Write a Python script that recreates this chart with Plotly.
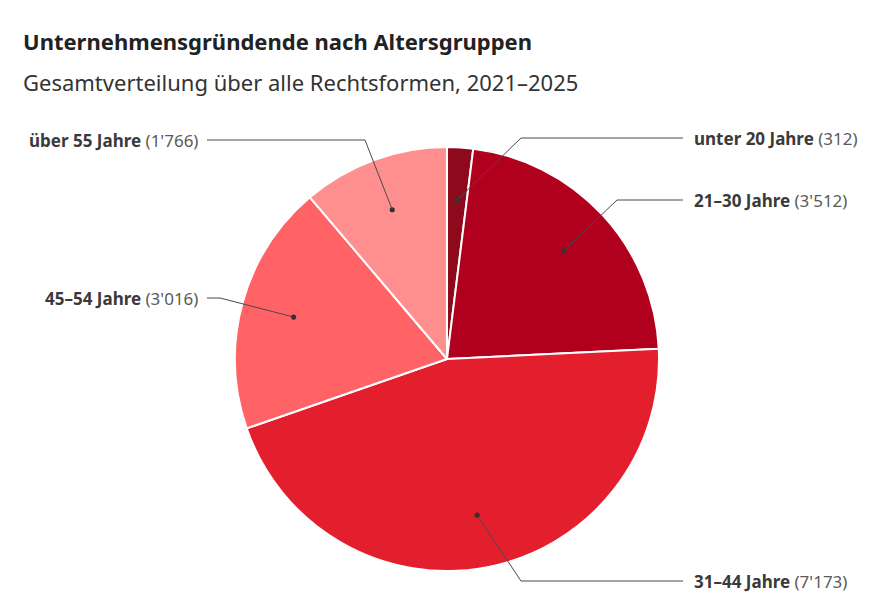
import math
import plotly.graph_objects as go

# ---- data ----
categories = ["unter 20 Jahre", "21–30 Jahre", "31–44 Jahre", "45–54 Jahre", "über 55 Jahre"]
values = [312, 3512, 7173, 3016, 1766]
value_labels = ["312", "3'512", "7'173", "3'016", "1'766"]
colors = ["#8C0A1B", "#B0001E", "#E31E2D", "#FF6366", "#FF8F8F"]

title = "Unternehmensgründende nach Altersgruppen"
subtitle = "Gesamtverteilung über alle Rechtsformen, 2021–2025"

# ---- layout (pixels) ----
W, H = 875, 611
CX, CY, R = 447, 359, 212
DOT_R = 0.75  # dot radius as fraction of pie radius

# label placement: (side, label y, elbow x)
label_layout = [
    ("right", 138, 521),
    ("right", 200, 617),
    ("right", 581, 521),
    ("left", 298, 220),
    ("left", 140, 365),
]
RIGHT_LINE_END, RIGHT_TEXT_X = 683, 692
LEFT_LINE_END, LEFT_TEXT_X = 207, 200


def px(x):
    return x / W


def py(y):
    return 1 - y / H


fig = go.Figure()
fig.add_trace(go.Pie(
    labels=categories,
    values=values,
    sort=False,
    direction="clockwise",
    rotation=0,
    marker=dict(colors=colors, line=dict(color="white", width=2)),
    textinfo="none",
    hoverinfo="label+value",
    showlegend=False,
    domain=dict(x=[px(CX - R), px(CX + R)], y=[py(CY + R), py(CY - R)]),
))

shapes = []
annotations = []
total = sum(values)
cum = 0
LINE_COL = "#4a4a4a"
for cat, v, vl, (side, ly, ex) in zip(categories, values, value_labels, label_layout):
    mid = (cum + v / 2) / total * 2 * math.pi
    cum += v
    dx = CX + math.sin(mid) * R * DOT_R
    dy = CY - math.cos(mid) * R * DOT_R
    end = RIGHT_LINE_END if side == "right" else LEFT_LINE_END
    path = f"M {px(dx)} {py(dy)} L {px(ex)} {py(ly)} L {px(end)} {py(ly)}"
    shapes.append(dict(type="path", path=path, xref="paper", yref="paper",
                       line=dict(color=LINE_COL, width=1), layer="above"))
    rr = 2.6
    shapes.append(dict(type="circle", xref="paper", yref="paper",
                       x0=px(dx - rr), x1=px(dx + rr), y0=py(dy + rr), y1=py(dy - rr),
                       fillcolor="#333333", line=dict(width=0), layer="above"))
    annotations.append(dict(
        x=px(RIGHT_TEXT_X if side == "right" else LEFT_TEXT_X), y=py(ly),
        xref="paper", yref="paper", showarrow=False,
        xanchor="left" if side == "right" else "right", yanchor="middle",
        text=f"<b>{cat}</b> <span style='color:#5a5a5a'>({vl})</span>",
        font=dict(family="Noto Sans", size=17, color="#3a3a3a"),
    ))

annotations.append(dict(x=px(21), y=py(41), xref="paper", yref="paper", showarrow=False,
                        xanchor="left", yanchor="middle", text=f"<b>{title}</b>",
                        font=dict(family="Noto Sans", size=22, color="#222222")))
annotations.append(dict(x=px(21), y=py(82), xref="paper", yref="paper", showarrow=False,
                        xanchor="left", yanchor="middle", text=subtitle,
                        font=dict(family="Noto Sans", size=22, color="#333333")))

fig.update_layout(
    width=W, height=H,
    margin=dict(l=0, r=0, t=0, b=0),
    paper_bgcolor="white", plot_bgcolor="white",
    shapes=shapes, annotations=annotations,
    showlegend=False,
)
fig.write_html("out.html")
